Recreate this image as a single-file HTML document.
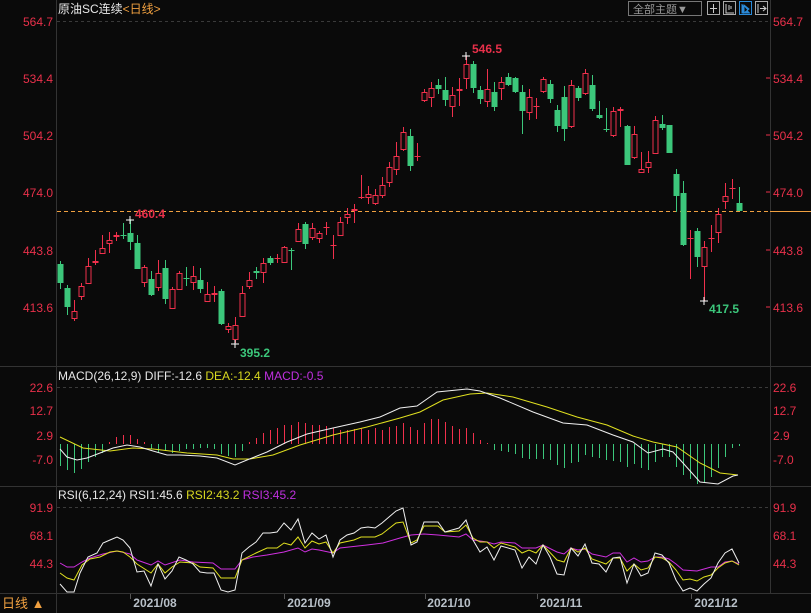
<!DOCTYPE html>
<html><head><meta charset="utf-8"><style>
html,body{margin:0;padding:0;background:#0a0a0a;width:811px;height:613px;overflow:hidden}
svg{display:block}
text{font-family:"Liberation Sans","Noto Sans CJK SC",sans-serif}
</style></head><body>
<svg id="s" width="811" height="613" xmlns="http://www.w3.org/2000/svg">
<rect width="811" height="613" fill="#0a0a0a"/>
<g stroke="#333" stroke-width="1">
<line x1="56.5" y1="0" x2="56.5" y2="613"/>
<line x1="770.5" y1="0" x2="770.5" y2="593"/>
<line x1="0" y1="366.5" x2="811" y2="366.5"/>
<line x1="0" y1="486.5" x2="811" y2="486.5"/>
<line x1="0" y1="593.5" x2="811" y2="593.5"/>
</g>
<g stroke="#3a3a3a" stroke-dasharray="3,3">
<line x1="57" y1="21.5" x2="770" y2="21.5"/>
<line x1="57" y1="387.5" x2="770" y2="387.5"/>
<line x1="57" y1="507.5" x2="770" y2="507.5"/>
</g>
<line x1="57" y1="211.5" x2="770" y2="211.5" stroke="#f0a040" stroke-dasharray="4,3"/>
<line x1="770" y1="211.5" x2="811" y2="211.5" stroke="#f0a040"/>
<g fill="#e8304a" font-size="12">
<g text-anchor="end">
<text x="53" y="26">564.7</text><text x="53" y="83">534.4</text><text x="53" y="140">504.2</text>
<text x="53" y="197">474.0</text><text x="53" y="255">443.8</text><text x="53" y="312">413.6</text>
<text x="53" y="392">22.6</text><text x="53" y="415">12.7</text><text x="53" y="440">2.9</text><text x="53" y="464">-7.0</text>
<text x="53" y="512">91.9</text><text x="53" y="540">68.1</text><text x="53" y="568">44.3</text>
</g>
<text x="773" y="26">564.7</text><text x="773" y="83">534.4</text><text x="773" y="140">504.2</text>
<text x="773" y="197">474.0</text><text x="773" y="255">443.8</text><text x="773" y="312">413.6</text>
<text x="773" y="392">22.6</text><text x="773" y="415">12.7</text><text x="773" y="440">2.9</text><text x="773" y="464">-7.0</text>
<text x="773" y="512">91.9</text><text x="773" y="540">68.1</text><text x="773" y="568">44.3</text>
</g>
<g stroke="#e8304a"><line x1="766" y1="78" x2="770" y2="78"/><line x1="766" y1="135" x2="770" y2="135"/><line x1="766" y1="192" x2="770" y2="192"/><line x1="766" y1="250" x2="770" y2="250"/><line x1="766" y1="307" x2="770" y2="307"/></g>
<text x="58" y="13" font-size="12" fill="#e8e8e8">原油SC连续<tspan fill="#f0a040">&lt;日线&gt;</tspan></text>
<rect x="628.5" y="1.5" width="73" height="14" fill="none" stroke="#777"/>
<text x="633" y="13" font-size="11" fill="#999">全部主题▼</text>
<rect x="707.5" y="1.5" width="12" height="13" fill="none" stroke="#aaa"/>
<rect x="723.5" y="1.5" width="12" height="13" fill="none" stroke="#aaa"/>
<rect x="739.5" y="1.5" width="12" height="13" fill="none" stroke="#2a8ad8"/>
<rect x="755.5" y="1.5" width="12" height="13" fill="none" stroke="#aaa"/>
<path d="M713.5 4v9M710 8.5h7M726 4v9h8M729 5v5M731 6v3" stroke="#ccc" fill="none"/>
<path d="M742 4v9h8M744 5l5 4-5 4z" stroke="#2a8ad8" fill="#2a8ad8"/>
<path d="M758 4v9M760 8.5h6M763 6l3 2.5-3 2.5" stroke="#ccc" fill="none"/>
<g id="c"></g>
<g font-size="12" font-weight="bold">
<text x="135" y="218" fill="#e8304a">460.4</text>
<text x="472" y="53" fill="#e8304a">546.5</text>
<text x="240" y="357" fill="#3cc77b">395.2</text>
<text x="709" y="313" fill="#3cc77b">417.5</text>
</g>
<g stroke="#fff"><path d="M126 220h8M130 216v8M462 56h8M466 52v8M231 344h8M235 340v8M700 301h8M704 297v8"/></g>
<text x="58" y="380" font-size="12"><tspan fill="#e8e8e8">MACD(26,12,9) DIFF:-12.6 </tspan><tspan fill="#d8d820">DEA:-12.4 </tspan><tspan fill="#c030e0">MACD:-0.5</tspan></text>
<text x="58" y="499" font-size="12"><tspan fill="#e8e8e8">RSI(6,12,24) RSI1:45.6 </tspan><tspan fill="#d8d820">RSI2:43.2 </tspan><tspan fill="#c030e0">RSI3:45.2</tspan></text>
<g font-size="12" font-weight="bold" fill="#b8c0c8" text-anchor="middle">
<text x="155" y="607">2021/08</text><text x="309" y="607">2021/09</text><text x="449" y="607">2021/10</text><text x="561" y="607">2021/11</text><text x="716" y="607">2021/12</text>
</g>
<g stroke="#555"><path d="M130.5 594v5M284.5 594v5M425.5 594v5M537.5 594v5M691.5 594v5"/></g>
<text x="2" y="608" font-size="13" fill="#f0a040">日线 ▲</text>
</svg>
<script>
var R="#f0304c",G="#3cc77b",NS="http://www.w3.org/2000/svg";
var C=[
['g',264,283,261,289],['g',288,307,285,315],['r',311,319,300,321],['r',286,297,283,300],['r',266,284,258,284],
['r',261,263,250,265],['r',248,254,235,254],['r',240,244,232,253],['r',235,237,232,241],['g',235,236,223,239],
['g',233,242,220,250],['g',243,269,235,269],['r',267,283,265,287],['g',279,295,271,296],['r',273,288,260,291],
['g',268,299,260,304],['r',289,309,287,309],['r',273,290,271,290],['g',278,279,267,286],['r',276,283,266,290],
['g',280,289,268,293],['r',294,302,282,302],['r',293,295,286,302],['g',291,324,289,325],['r',326,330,323,333],
['r',325,340,317,343],['r',293,317,286,317],['r',280,287,272,289],['g',271,273,267,279],['r',263,273,258,283],
['g',258,263,256,265],['r',258,259,254,263],['r',247,263,246,263],['g',250,251,248,270],['r',229,242,223,242],
['g',224,244,222,249],['r',228,238,223,240],['r',233,239,231,243],['r',227,228,222,235],['r',245,246,235,259],
['r',222,236,217,236],['r',214,218,208,224],['r',209,211,204,223],['r',197,198,175,199],['r',194,198,186,204],
['r',195,204,189,205],['r',185,196,177,198],['r',167,183,162,187],['r',156,170,142,175],
['r',132,150,127,151],['g',136,166,129,171],['r',156,157,143,161],['r',92,101,89,102],['r',88,98,82,107],
['g',85,89,79,94],['g',90,100,77,106],['r',95,107,87,117],['r',89,91,78,106],['r',64,79,56,89],
['g',64,88,61,93],['g',90,99,86,104],['r',89,102,69,107],['g',92,107,82,111],['r',82,89,77,100],
['g',77,85,73,86],['g',78,92,77,93],['g',92,111,85,134],['r',97,113,89,120],['r',106,107,98,119],
['r',79,92,77,93],['g',84,99,80,103],['g',110,126,105,132],['g',97,129,86,141],['r',85,127,80,128],
['g',88,98,86,101],['r',73,94,69,95],['g',85,109,75,111],['g',115,118,101,119],['g',129,130,108,132],
['r',111,136,107,137],['r',109,111,107,127],['g',126,165,125,165],['r',134,158,126,159],['r',169,173,152,173],
['r',162,168,151,173],['r',120,154,116,154],['g',124,128,115,130],['g',125,153,125,153],['g',174,196,169,212],
['g',193,245,181,246],['r',238,239,230,279],['g',231,257,228,267],['r',247,267,241,301],['r',238,239,225,252],
['r',214,233,208,243],['r',196,202,183,209],['r',188,189,179,199],['g',203,211,187,211]];
var H=[466,470,473,469,462,457,453,442,437,435,435,439,442,449,452,451,453,451,449,449,448,448,449,454,456,457,451,442,438,433,430,428,425,425,422,423,425,425,426,428,430,430,429,428,430,428,430,427,426,
423,427,430,423,419,419,422,426,429,428,433,440,443,450,451,452,454,458,459,459,459,460,465,468,463,462,455,457,458,460,461,462,467,464,468,470,462,457,457,467,475,479,484,482,477,468,457,448,446];
var g=document.getElementById('c'),h='';
for(var i=0;i<C.length;i++){var c=C[i],x=60.5+i*7,col=c[0]=='r'?R:G;
h+='<line x1="'+x+'" x2="'+x+'" y1="'+c[3]+'" y2="'+c[4]+'" stroke="'+col+'"/>';
var bh=Math.max(1,c[2]-c[1]);
if(c[0]=='r'){if(bh<=2)h+='<rect x="'+(x-3)+'" y="'+c[1]+'" width="6" height="'+bh+'" fill="'+R+'"/>';else h+='<rect x="'+(x-2.5)+'" y="'+(c[1]+.5)+'" width="5" height="'+(bh-1)+'" fill="#0a0a0a" stroke="'+R+'"/>';}
else h+='<rect x="'+(x-3)+'" y="'+c[1]+'" width="6" height="'+bh+'" fill="'+G+'"/>';
var hv=H[i];if(hv!==undefined){var cc=hv<444?R:G;h+='<line x1="'+x+'" x2="'+x+'" y1="444" y2="'+hv+'" stroke="'+cc+'"/>';}}
function pl(p,col){return '<polyline fill="none" stroke="'+col+'" stroke-width="1" points="'+p+'"/>';}
h+=pl("60,437 83,448 110,451 133,448 153,449 187,453 217,455 233,459 250,459 273,455 300,445 333,435 367,427 400,418 420,412 443,400 470,394 487,393 513,397 547,407 577,417 607,425 633,436 653,442 677,447 700,463 720,473 738,475","#e0e020");
h+=pl("60,449 67,457 77,460 87,458 100,453 113,448 127,445 140,447 153,451 167,455 180,455 200,456 217,458 235,465 247,460 267,452 287,442 307,434 333,428 360,422 380,417 400,408 417,406 437,392 467,389 480,391 500,398 533,412 563,423 587,425 613,435 633,442 648,453 663,449 673,452 683,463 700,482 718,484 733,476 738,475","#f0f0f0");
h+=pl("60,563 67,567 74,567 82,562 90,558 103,554 117,551 130,554 137,560 151,565 158,561 165,565 180,560 193,562 213,563 221,569 235,569 242,560 253,557 267,555 284,552 298,548 305,552 312,549 319,550 333,553 340,548 367,545 383,543 400,538 411,535 424,534 438,535 459,537 466,534 473,540 487,542 494,544 501,542 515,543 522,548 536,548 543,545 557,552 564,554 571,548 578,550 585,549 592,554 606,557 613,553 620,553 627,562 634,558 641,562 648,561 655,557 662,557 669,559 676,564 683,570 697,571 711,567 718,567 725,562 732,561 739,564","#d030e0");
h+=pl("60,573 67,578 74,580 82,565 90,559 100,557 110,552 117,551 123,552 130,557 137,564 151,573 158,564 165,573 172,567 180,562 193,563 200,567 213,568 221,578 235,578 242,560 256,553 267,548 277,548 284,543 291,545 298,537 305,548 312,541 319,544 326,542 333,553 340,543 354,540 361,537 375,537 382,534 396,523 403,522 411,543 417,540 424,526 438,526 445,532 459,531 466,525 473,538 480,542 487,542 494,548 501,543 515,547 522,553 529,550 536,553 543,545 557,560 564,562 571,548 578,552 585,548 592,559 606,564 613,558 620,558 627,571 634,564 641,570 648,568 655,557 662,558 669,562 676,570 683,580 690,579 697,581 704,577 711,575 718,568 725,563 732,561 739,565","#e0e020");
h+=pl("60,584 67,592 74,592 80,573 88,557 97,553 103,543 110,540 117,537 123,540 130,548 137,572 144,571 151,586 158,564 165,579 172,571 179,557 186,560 193,564 200,572 207,573 214,573 221,590 228,592 235,590 242,553 249,547 256,542 263,533 270,533 277,532 284,523 291,530 298,519 305,543 312,533 319,539 326,535 333,557 340,540 347,535 354,533 361,528 368,527 375,528 382,523 389,517 396,511 403,508 411,545 417,542 424,522 438,522 445,532 459,528 466,520 473,540 480,552 487,547 494,560 501,546 515,550 522,568 529,557 536,564 543,545 550,557 557,574 564,575 571,548 578,556 585,544 592,563 599,564 606,572 613,558 620,557 627,583 634,564 641,576 648,573 655,553 662,555 669,563 676,580 683,591 690,588 697,591 704,584 711,578 718,563 725,553 732,549 739,563","#f0f0f0");
g.innerHTML=h;
</script>
</body></html>
